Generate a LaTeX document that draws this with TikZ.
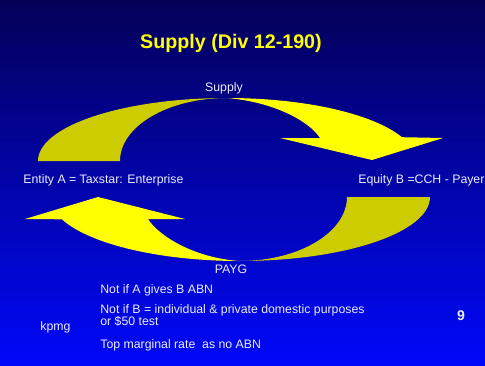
\documentclass[tikz,border=0pt]{standalone}
\usepackage{fontspec}
\setmainfont{Liberation Sans}
\usetikzlibrary{positioning}
\definecolor{bgtop}{RGB}{4,0,88}
\definecolor{bgbottom}{RGB}{0,8,250}
\definecolor{arrowfront}{RGB}{255,255,0}
\definecolor{arrowback}{RGB}{204,204,0}
\definecolor{labeltext}{RGB}{235,235,255}
\tikzset{
	every node/.style = {font=\fontsize{7}{8}\selectfont, text=labeltext, inner sep=0pt},
	titletext/.style = {font=\fontsize{11.2}{13}\selectfont\bfseries, text=arrowfront},
	front/.style = {fill=arrowfront},
	back/.style = {fill=arrowback}
}

\begin{document}
\begin{tikzpicture}[x=0.02cm, y=-0.02cm]
		% background
		\shade[top color=bgtop, bottom color=bgbottom] (0,0) rectangle (485,366);
		\useasboundingbox (0,0) rectangle (485,366);
		\node[titletext, anchor=base] (title) at (231,48) {Supply (Div 12-190)};
		% upper arrow
		\fill[back] (38,161) arc[start angle=180, end angle=270, x radius=189, y radius=63]
			arc[start angle=270, end angle=180, x radius=107, y radius=63] -- cycle;
		\fill[front] (227,98) arc[start angle=270, end angle=337.8, x radius=189, y radius=63]
			-- (443,138) -- (372,160) -- (280,138) -- (320,138)
			.. controls (310,122) and (275,102) .. (227,98) -- cycle;
		% lower arrow
		\fill[back] (430,197) arc[start angle=0, end angle=90, x radius=190, y radius=64]
			arc[start angle=90, end angle=0, x radius=107, y radius=64] -- cycle;
		\fill[front] (240,261) arc[start angle=90, end angle=159.6, x radius=190, y radius=64]
			-- (25,219) -- (98,197) -- (185,219) -- (148,219)
			.. controls (158,235) and (193,258) .. (240,261) -- cycle;
		% labels
		\node[anchor=base] (supply) at (224,91) {Supply};
		\node[anchor=base west] (entityA) at (23,183) {Entity A = Taxstar: Enterprise};
		\node[anchor=base west] (entityB) at (358,183) {Equity B =CCH - Payer};
		\node[anchor=base] (payg) at (231,273) {PAYG};
		\node[anchor=base west] (noteA) at (100,293) {Not if A gives B ABN};
		\node[anchor=base west] (noteB) at (100,313) {Not if B = individual \& private domestic purposes};
		\node[anchor=base west] (noteC) at (100,325) {or \$50 test};
		\node[anchor=base west] (noteD) at (100,348) {Top marginal rate \ as no ABN};
		\node[anchor=base west] (kpmg) at (40,330) {kpmg};
		\node[anchor=base, font=\fontsize{8}{9}\selectfont\bfseries] (page) at (461,320) {9};
	\end{tikzpicture}
\end{document}
